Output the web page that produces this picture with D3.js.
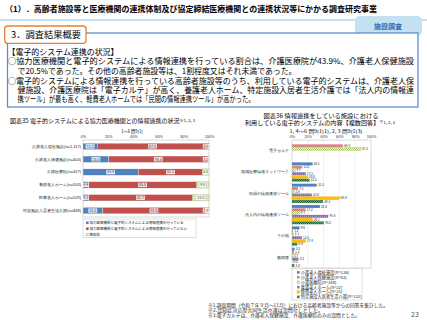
<!DOCTYPE html>
<html>
<head>
<meta charset="utf-8">
<script src="https://cdn.jsdelivr.net/npm/d3@7"></script>
<style>
  html, body { margin: 0; padding: 0; background: #fff; }
  svg { display: block; font-family: "Noto Sans CJK JP", "Noto Sans", sans-serif; }
</style>
</head>
<body>
<svg id="page" width="427" height="320"></svg>
<script>
// ---- data : 図表35 ----
const facilities35 = ['介護老人福祉施設(n=1,117)', '介護老人保健施設(n=404)', '介護医療院(n=327)',
  '養護老人ホーム(n=503)', '軽費老人ホーム(n=529)', '特定施設入居者生活介護(n=848)'];
const linked35 = [11.3, 20.5, 43.9, 4.4, 4.3, 15.5];
const notLinked35 = [87.8, 78.5, 51.1, 85.8, 82.7, 81.6];
const noAnswer35 = [0.9, 1.0, 5.0, 9.8, 13.0, 2.9];
const legend35 = ['協力医療機関と電子的システムによる情報連携を行っている',
  '協力医療機関と電子的システムによる情報連携を行っていない', '無回答'];

// ---- data : 図表36 ----
const systems36 = ['電子カルテ', '地域医療情報ネットワーク', '民間の情報連携ツール', '法人内の情報連携ツール', 'その他', '無回答'];
const facilities36 = ['介護老人福祉施設(n=126)', '介護老人保健施設(n=83)', '介護医療院(n=144)',
  '養護老人ホーム(n=22)', '軽費老人ホーム(n=23)', '特定施設入居者生活介護(n=132)'];
const fukushi36 = [null, 26.1, 31.3, 35.3, 9.6, 3.2];
const roken36 = [64.5, 12.8, 7.5, 17.2, 1.2, 2.4];
const iryoin36 = [87.2, 4.1, 2.8, 9.7, 2.1, 0.7];
const yogo36 = [null, 17.5, 25.0, 45.8, 12.5, 8.3];
const keihi36 = [null, 20.0, 60.0, 26.1, 17.4, 0.0];
const tokutei36 = [null, 22.2, 39.2, 40.2, 6.8, 3.0];

const pctTicks = [0, 20, 40, 60, 80, 100];

const svg = d3.select('#page');
const defs = svg.append('defs');

// hatch patterns (small, bars are only ~3px tall)
function pattern(id, bg, draw) {
  const p = defs.append('pattern').attr('id', id)
    .attr('patternUnits', 'userSpaceOnUse').attr('width', 2).attr('height', 2);
  p.append('rect').attr('width', 2).attr('height', 2).attr('fill', bg);
  draw(p);
}
pattern('p-red', '#c0504d', p => {
  p.append('path').attr('d', 'M0,0 L2,2 M2,0 L0,2').attr('stroke', '#f2c9c8').attr('stroke-width', 0.45);
});
pattern('p-green', '#ffffff', p => {
  p.append('rect').attr('width', 1).attr('height', 1).attr('fill', '#9bbb59');
  p.append('rect').attr('x', 1).attr('y', 1).attr('width', 1).attr('height', 1).attr('fill', '#9bbb59');
});
pattern('p-purple', '#8064a2', p => {
  p.append('rect').attr('y', 0.6).attr('width', 1.2).attr('height', 0.6).attr('fill', '#e4dcef');
});
pattern('p-dkgreen', '#1f6d3d', p => {
  p.append('path').attr('d', 'M0,2 L2,0').attr('stroke', '#9ccc9c').attr('stroke-width', 0.5);
});
const fills36 = ['#4f81bd', 'url(#p-red)', 'url(#p-green)', 'url(#p-purple)', '#ffc000', 'url(#p-dkgreen)'];
const strokes36 = ['none', 'none', '#9bbb59', 'none', '#e39a00', 'none'];

// ---- page header ----
svg.append('text')
  .attr('x', 5).attr('y', 12)
  .attr('font-size', 8).attr('font-weight', 'bold')
  .attr('textLength', 372).attr('lengthAdjust', 'spacingAndGlyphs')
  .text('（1）．高齢者施設等と医療機関の連携体制及び協定締結医療機関との連携状況等にかかる調査研究事業');

svg.append('line')
  .attr('x1', 0).attr('x2', 427).attr('y1', 20).attr('y2', 20)
  .attr('stroke', '#8db8e0').attr('stroke-width', 1.2);

svg.append('rect')
  .attr('x', 355).attr('y', 16).attr('width', 67).attr('height', 20).attr('rx', 5)
  .attr('fill', '#c3e1f0');
svg.append('text')
  .attr('x', 388).attr('y', 29).attr('text-anchor', 'middle')
  .attr('font-size', 7).attr('font-weight', 'bold').attr('fill', '#2f6db5')
  .text('施設調査');

// summary box
svg.append('rect')
  .attr('x', 7.5).attr('y', 33).attr('width', 410.5).attr('height', 74)
  .attr('fill', '#fff').attr('stroke', '#5b8fd0').attr('stroke-width', 1.3);
svg.append('rect')
  .attr('x', 4.7).attr('y', 26).attr('width', 81.3).attr('height', 17.3).attr('rx', 3)
  .attr('fill', '#fff').attr('stroke', '#ed7d31').attr('stroke-width', 1.3);
svg.append('text')
  .attr('x', 11).attr('y', 38.3).attr('font-size', 9)
  .attr('textLength', 70).attr('lengthAdjust', 'spacingAndGlyphs')
  .text('3．調査結果概要');

const bodyLines = [
  { x: 7.5, y: 54.5, w: 111, t: '【電子的システム連携の状況】' },
  { x: 8, y: 64, w: 406, t: '○協力医療機関と電子的システムによる情報連携を行っている割合は、介護医療院が43.9%、介護老人保健施設' },
  { x: 17.5, y: 73.7, w: 279, t: 'で20.5%であった。その他の高齢者施設等は、1割程度又はそれ未満であった。' },
  { x: 8, y: 83.5, w: 406, t: '○電子的システムによる情報連携を行っている高齢者施設等のうち、利用している電子的システムは、介護老人保' },
  { x: 17.5, y: 92.5, w: 396.5, t: '健施設、介護医療院は「電子カルテ」が高く、養護老人ホーム、特定施設入居者生活介護では「法人内の情報連' },
  { x: 17.5, y: 102, w: 237, t: '携ツール」が最も高く、軽費老人ホームでは「民間の情報連携ツール」が高かった。' }
];
svg.append('g').selectAll('text')
  .data(bodyLines)
  .join('text')
  .attr('x', d => d.x).attr('y', d => d.y)
  .attr('font-size', 8.2)
  .attr('textLength', d => d.w).attr('lengthAdjust', 'spacingAndGlyphs')
  .text(d => d.t);

// ---- 図表35 : stacked 100% bars ----
function titleWithNote(x, y, anchor, main, note, size, width) {
  const t = svg.append('text')
    .attr('x', x).attr('y', y).attr('text-anchor', anchor)
    .attr('font-size', size);
  if (width) t.attr('textLength', width).attr('lengthAdjust', 'spacingAndGlyphs');
  t.append('tspan').text(main);
  if (note) t.append('tspan').attr('font-size', size * 0.7).attr('dy', -1.2).text(note);
  return t;
}
titleWithNote(10, 123, 'start', '図表35 電子的システムによる協力医療機関との情報連携の状況', '※1, 2, 3', 5.6, 185);
svg.append('text').attr('x', 132).attr('y', 132.5).attr('text-anchor', 'middle')
  .attr('font-size', 4.2).text('1〜6 問9(1)');

const x35 = d3.scaleLinear().domain([0, 100]).range([83, 209]);
const y35 = d3.scaleBand().domain(facilities35).range([140, 217]).paddingInner(0.5).paddingOuter(0.25);

const stack35 = facilities35.map((f, i) => {
  const vals = [linked35[i], notLinked35[i], noAnswer35[i]];
  let acc = 0;
  return vals.map((v, k) => { const s = { f, k, v, x0: acc, x1: acc + v }; acc += v; return s; });
}).flat();
const fills35 = ['#4f81bd', '#c0504d', '#d7e4bd'];

const c35 = svg.append('g');
c35.append('rect')
  .attr('x', x35(0)).attr('y', 140).attr('width', x35(100) - x35(0)).attr('height', 77)
  .attr('fill', 'none').attr('stroke', '#bfbfbf').attr('stroke-width', 0.6);
c35.append('g')
  .attr('transform', 'translate(0,140)')
  .call(d3.axisTop(x35).tickValues(pctTicks).tickFormat(d => d + '%').tickSize(0).tickPadding(2))
  .call(g => g.select('.domain').remove())
  .call(g => g.selectAll('text').attr('font-size', 3.8).attr('font-family', null).attr('fill', '#333'));
c35.append('g')
  .attr('transform', 'translate(81,0)')
  .call(d3.axisLeft(y35).tickSize(0).tickPadding(0))
  .call(g => g.select('.domain').remove())
  .call(g => g.selectAll('text').attr('font-size', 4).attr('font-family', null).attr('fill', '#222'));

c35.selectAll('rect.seg')
  .data(stack35)
  .join('rect')
  .attr('class', 'seg')
  .attr('x', d => x35(d.x0)).attr('y', d => y35(d.f))
  .attr('width', d => x35(d.x1) - x35(d.x0)).attr('height', y35.bandwidth())
  .attr('fill', d => fills35[d.k])
  .attr('stroke', d => d.k === 2 ? '#9bbb59' : '#fff').attr('stroke-width', 0.3);

const lab35 = c35.selectAll('g.lab')
  .data(stack35)
  .join('g')
  .attr('class', 'lab')
  .attr('transform', d => `translate(${Math.min(x35((d.x0 + d.x1) / 2), 206)},${y35(d.f) + y35.bandwidth() / 2})`);
lab35.append('rect')
  .attr('x', d => d.v < 10 ? -3.2 : -4.4).attr('y', -2.2)
  .attr('width', d => d.v < 10 ? 6.4 : 8.8).attr('height', 4.4)
  .attr('fill', '#fff').attr('opacity', 0.85);
lab35.append('text')
  .attr('text-anchor', 'middle').attr('dy', '0.35em')
  .attr('font-size', 3.6).attr('fill', '#333')
  .text(d => d.v.toFixed(1));

const leg35 = svg.append('g');
leg35.append('rect')
  .attr('x', 83).attr('y', 219).attr('width', 113).attr('height', 18.5)
  .attr('fill', '#fff').attr('stroke', '#bfbfbf').attr('stroke-width', 0.5);
leg35.selectAll('g.item')
  .data(legend35)
  .join('g')
  .attr('class', 'item')
  .attr('transform', (d, i) => `translate(86,${222.8 + i * 5.9})`)
  .call(g => g.append('rect').attr('x', 0).attr('y', -1.3).attr('width', 2.6).attr('height', 2.6)
    .attr('fill', (d, i) => fills35[i]).attr('stroke', (d, i) => i === 2 ? '#9bbb59' : 'none').attr('stroke-width', 0.3))
  .call(g => g.append('text').attr('x', 3.4).attr('dy', '0.35em').attr('font-size', 3.5).attr('fill', '#222').text(d => d));

// ---- 図表36 : grouped bars ----
svg.append('text').attr('x', 321).attr('y', 118).attr('text-anchor', 'middle')
  .attr('font-size', 5.8).attr('textLength', 115).attr('lengthAdjust', 'spacingAndGlyphs')
  .text('図表36 情報連携をしている施設における');
titleWithNote(320, 124.8, 'middle', '利用している電子的システムの内容【複数回答】', '※1, 2, 3', 5.8, 150);
svg.append('text').attr('x', 326).attr('y', 132.5).attr('text-anchor', 'middle')
  .attr('font-size', 4.2).attr('textLength', 73).attr('lengthAdjust', 'spacingAndGlyphs')
  .text('1, 4〜6 問9(1)1), 2, 3 問9(1)3)');

const series36 = [fukushi36, roken36, iryoin36, yogo36, keihi36, tokutei36];
const x36 = d3.scaleLinear().domain([0, 100]).range([292, 371]);
const y36 = d3.scaleBand().domain(systems36).range([140, 268]).paddingInner(0.08).paddingOuter(0.04);
const s36 = d3.scaleBand().domain(d3.range(facilities36.length)).range([0, y36.bandwidth()]);

const bars36 = [];
systems36.forEach((sys, i) => {
  series36.forEach((vals, k) => {
    if (vals[i] !== null) bars36.push({ sys, k, v: vals[i] });
  });
});

const c36 = svg.append('g');
c36.selectAll('line.grid')
  .data(pctTicks.slice(1, -1))
  .join('line')
  .attr('class', 'grid')
  .attr('x1', d => x36(d)).attr('x2', d => x36(d))
  .attr('y1', 140).attr('y2', 268)
  .attr('stroke', '#e3e3e3').attr('stroke-width', 0.5);
c36.append('rect')
  .attr('x', x36(0)).attr('y', 140).attr('width', x36(100) - x36(0)).attr('height', 128)
  .attr('fill', 'none').attr('stroke', '#bfbfbf').attr('stroke-width', 0.6);
c36.append('g')
  .attr('transform', 'translate(0,140)')
  .call(d3.axisTop(x36).tickValues(pctTicks).tickFormat(d => d + '%').tickSize(0).tickPadding(2.5))
  .call(g => g.select('.domain').remove())
  .call(g => g.selectAll('text').attr('font-size', 3.8).attr('font-family', null).attr('fill', '#333'));
c36.append('g')
  .attr('transform', 'translate(289,0)')
  .call(d3.axisLeft(y36).tickSize(0).tickPadding(0))
  .call(g => g.select('.domain').remove())
  .call(g => g.selectAll('text').attr('font-size', 4).attr('font-family', null).attr('fill', '#222'));

c36.selectAll('rect.bar')
  .data(bars36)
  .join('rect')
  .attr('class', 'bar')
  .attr('x', x36(0)).attr('y', d => y36(d.sys) + s36(d.k) + 0.2)
  .attr('width', d => x36(d.v) - x36(0)).attr('height', s36.bandwidth() - 0.4)
  .attr('fill', d => fills36[d.k])
  .attr('stroke', d => strokes36[d.k]).attr('stroke-width', 0.3);
c36.selectAll('text.val')
  .data(bars36)
  .join('text')
  .attr('class', 'val')
  .attr('x', d => x36(d.v) + 1.2).attr('y', d => y36(d.sys) + s36(d.k) + s36.bandwidth() / 2)
  .attr('dy', '0.35em').attr('font-size', 3.1).attr('fill', '#333')
  .text(d => d.v.toFixed(1));

const leg36 = svg.append('g');
leg36.append('rect')
  .attr('x', 292).attr('y', 268.5).attr('width', 70).attr('height', 31.5)
  .attr('fill', '#fff').attr('stroke', '#bfbfbf').attr('stroke-width', 0.5);
leg36.selectAll('g.item')
  .data(facilities36)
  .join('g')
  .attr('class', 'item')
  .attr('transform', (d, i) => `translate(297,${272.4 + i * 4.9})`)
  .call(g => g.append('rect').attr('x', 0).attr('y', -1.3).attr('width', 2.6).attr('height', 2.6)
    .attr('fill', (d, i) => fills36[i]).attr('stroke', (d, i) => strokes36[i]).attr('stroke-width', 0.3))
  .call(g => g.append('text').attr('x', 3.8).attr('dy', '0.35em').attr('font-size', 4.2).attr('fill', '#222').text(d => d));

// ---- footnotes ----
const notes = [
  { y: 306.5, w: 180, t: '※1.調査期間（令和７年９月〜11月）における高齢者施設等からの回答を集計した。' },
  { y: 311.8, w: 115, t: '※2.認知症対応型共同生活介護は設問なしとした。' },
  { y: 317, w: 152, t: '※3.電子カルテは、介護老人保健施設、介護医療院のみの設問とした。' }
];
svg.append('g').selectAll('text')
  .data(notes)
  .join('text')
  .attr('x', 208).attr('y', d => d.y)
  .attr('font-size', 4.8).attr('fill', '#222')
  .attr('textLength', d => d.w).attr('lengthAdjust', 'spacingAndGlyphs')
  .text(d => d.t);

svg.append('text')
  .attr('x', 415).attr('y', 316.5).attr('text-anchor', 'middle')
  .attr('font-size', 7).attr('fill', '#555')
  .text('23');
</script>
</body>
</html>
